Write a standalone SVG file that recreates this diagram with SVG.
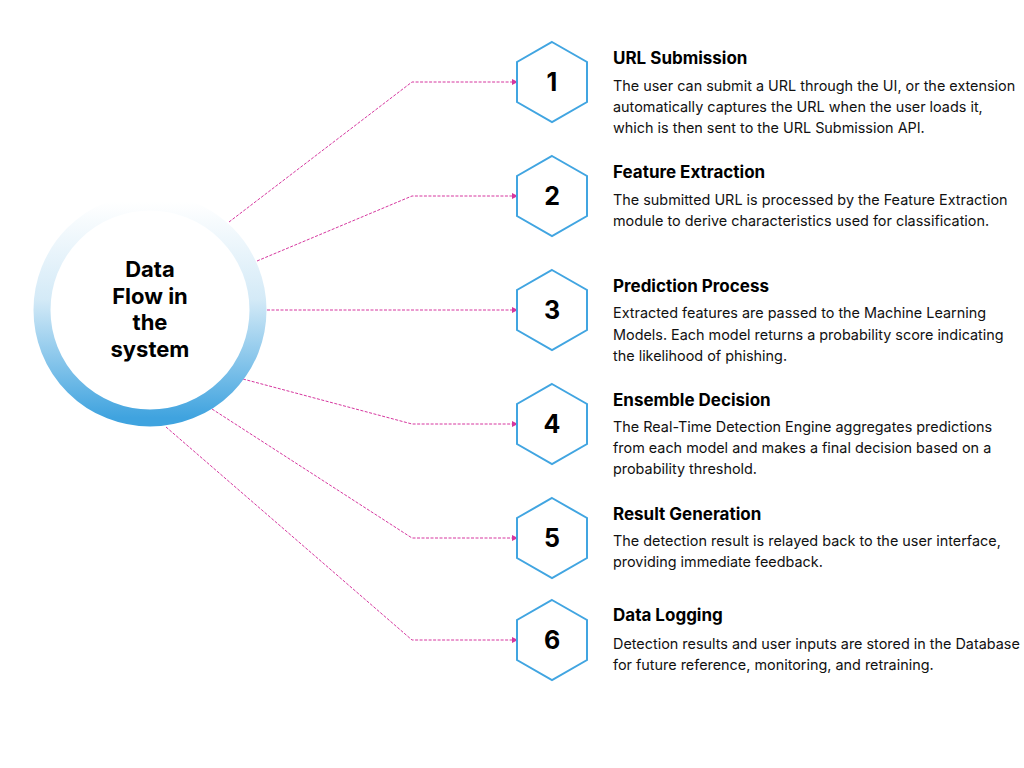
<svg xmlns="http://www.w3.org/2000/svg" width="1024" height="768" viewBox="0 0 1024 768">
<defs>
<linearGradient id="ring" x1="0" y1="0" x2="0" y2="1">
<stop offset="0" stop-color="#ffffff"/>
<stop offset="0.45" stop-color="#d4eaf7"/>
<stop offset="1" stop-color="#3fa3df"/>
</linearGradient>
<marker id="arr" viewBox="0 0 6 6" refX="5" refY="3" markerWidth="6" markerHeight="6" markerUnits="userSpaceOnUse" orient="auto">
<path d="M0,0 L6,3 L0,6 z" fill="#d6379f"/>
</marker>
<polygon id="hex" points="0,-40 35,-20 35,20 0,40 -35,20 -35,-20" fill="#ffffff" stroke="#41a5e1" stroke-width="2"/>
</defs>
<style>
.conn{fill:none;stroke:#d6379f;stroke-width:1;stroke-dasharray:3,1.5;marker-end:url(#arr)}
.num{font-family:Inter,"Liberation Sans",sans-serif;font-weight:700;font-size:25px;fill:#000;text-anchor:middle}
.title{font-family:Inter,"Liberation Sans",sans-serif;font-weight:700;font-size:17px;fill:#000}
.body{font-family:Inter,"Liberation Sans",sans-serif;font-size:14.4px;fill:#111}
.center{font-family:Inter,"Liberation Sans",sans-serif;font-weight:700;font-size:22px;fill:#000;text-anchor:middle}
</style>
<rect width="1024" height="768" fill="#ffffff"/>
<g id="connectors">
<polyline class="conn" points="229,222 412,82 517,82"/>
<polyline class="conn" points="257,261 412,196 517,196"/>
<polyline class="conn" points="267,310 412,310 517,310"/>
<polyline class="conn" points="243,379 412,424 517,424"/>
<polyline class="conn" points="212,409 412,538 517,538"/>
<polyline class="conn" points="166,427 412,640 517,640"/>
</g>
<g id="hub">
<circle cx="150" cy="310" r="108" fill="#ffffff" stroke="url(#ring)" stroke-width="17"/>
<text class="center" x="150" y="277">Data</text>
<text class="center" x="150" y="304">Flow in</text>
<text class="center" x="150" y="330">the</text>
<text class="center" x="150" y="357">system</text>
</g>
<g id="step1">
<use href="#hex" x="552" y="82"/>
<text class="num" x="552" y="91">1</text>
<text class="title" x="613" y="64">URL Submission</text>
<text class="body" x="613" y="91">The user can submit a URL through the UI, or the extension</text>
<text class="body" x="613" y="112">automatically captures the URL when the user loads it,</text>
<text class="body" x="613" y="133">which is then sent to the URL Submission API.</text>
</g>
<g id="step2">
<use href="#hex" x="552" y="196"/>
<text class="num" x="552" y="205">2</text>
<text class="title" x="613" y="178">Feature Extraction</text>
<text class="body" x="613" y="205">The submitted URL is processed by the Feature Extraction</text>
<text class="body" x="613" y="226">module to derive characteristics used for classification.</text>
</g>
<g id="step3">
<use href="#hex" x="552" y="310"/>
<text class="num" x="552" y="319">3</text>
<text class="title" x="613" y="292">Prediction Process</text>
<text class="body" x="613" y="318">Extracted features are passed to the Machine Learning</text>
<text class="body" x="613" y="340">Models. Each model returns a probability score indicating</text>
<text class="body" x="613" y="361">the likelihood of phishing.</text>
</g>
<g id="step4">
<use href="#hex" x="552" y="424"/>
<text class="num" x="552" y="433">4</text>
<text class="title" x="613" y="406">Ensemble Decision</text>
<text class="body" x="613" y="432">The Real-Time Detection Engine aggregates predictions</text>
<text class="body" x="613" y="453">from each model and makes a final decision based on a</text>
<text class="body" x="613" y="474">probability threshold.</text>
</g>
<g id="step5">
<use href="#hex" x="552" y="538"/>
<text class="num" x="552" y="547">5</text>
<text class="title" x="613" y="520">Result Generation</text>
<text class="body" x="613" y="546">The detection result is relayed back to the user interface,</text>
<text class="body" x="613" y="567">providing immediate feedback.</text>
</g>
<g id="step6">
<use href="#hex" x="552" y="640"/>
<text class="num" x="552" y="649">6</text>
<text class="title" x="613" y="621">Data Logging</text>
<text class="body" x="613" y="649">Detection results and user inputs are stored in the Database</text>
<text class="body" x="613" y="670">for future reference, monitoring, and retraining.</text>
</g>
</svg>
